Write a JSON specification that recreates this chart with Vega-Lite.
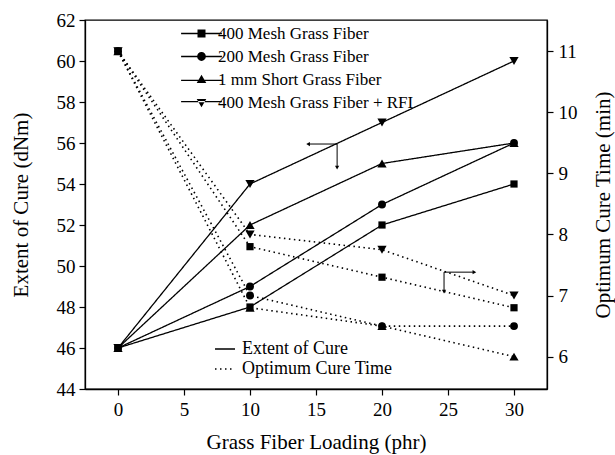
{
  "$schema": "https://vega.github.io/schema/vega-lite/v6.json",
  "width": 462,
  "height": 369,
  "autosize": "none",
  "padding": {"left": 85, "top": 20, "right": 68, "bottom": 66},
  "background": "white",
  "config": {
    "font": "Liberation Serif",
    "view": {"stroke": "black", "strokeWidth": 1.3},
    "axis": {
      "domainColor": "black", "tickColor": "black", "labelColor": "black", "titleColor": "black",
      "labelFont": "Liberation Serif", "titleFont": "Liberation Serif",
      "labelFontSize": 19, "titleFontSize": 21, "titleFontWeight": "normal",
      "grid": false, "domainWidth": 1.3, "tickWidth": 1.2, "labelOverlap": false
    },
    "legend": {"labelFont": "Liberation Serif", "labelColor": "black", "labelLimit": 400}
  },
  "datasets": {
    "cure": [
      {"series": "400 Mesh Grass Fiber", "Loading": 0, "Extent": 46, "Time": 11.0},
      {"series": "400 Mesh Grass Fiber", "Loading": 10, "Extent": 48, "Time": 7.8},
      {"series": "400 Mesh Grass Fiber", "Loading": 20, "Extent": 52, "Time": 7.3},
      {"series": "400 Mesh Grass Fiber", "Loading": 30, "Extent": 54, "Time": 6.8},
      {"series": "200 Mesh Grass Fiber", "Loading": 0, "Extent": 46, "Time": 11.0},
      {"series": "200 Mesh Grass Fiber", "Loading": 10, "Extent": 49, "Time": 7.0},
      {"series": "200 Mesh Grass Fiber", "Loading": 20, "Extent": 53, "Time": 6.5},
      {"series": "200 Mesh Grass Fiber", "Loading": 30, "Extent": 56, "Time": 6.5},
      {"series": "1 mm Short Grass Fiber", "Loading": 0, "Extent": 46, "Time": 11.0},
      {"series": "1 mm Short Grass Fiber", "Loading": 10, "Extent": 52, "Time": 6.8},
      {"series": "1 mm Short Grass Fiber", "Loading": 20, "Extent": 55, "Time": 6.5},
      {"series": "1 mm Short Grass Fiber", "Loading": 30, "Extent": 56, "Time": 6.0},
      {"series": "400 Mesh Grass Fiber + RFI", "Loading": 0, "Extent": 46, "Time": 11.0},
      {"series": "400 Mesh Grass Fiber + RFI", "Loading": 10, "Extent": 54, "Time": 8.0},
      {"series": "400 Mesh Grass Fiber + RFI", "Loading": 20, "Extent": 57, "Time": 7.75},
      {"series": "400 Mesh Grass Fiber + RFI", "Loading": 30, "Extent": 60, "Time": 7.0}
    ],
    "arrowLines": [
      {"x": 14.4, "x2": 16.6, "y": 55.95, "y2": 55.95},
      {"x": 16.6, "x2": 16.6, "y": 55.95, "y2": 54.8},
      {"x": 24.7, "x2": 27.0, "y": 49.7, "y2": 49.7},
      {"x": 24.7, "x2": 24.7, "y": 49.7, "y2": 48.75}
    ],
    "arrowHeads": [
      {"x": 14.4, "y": 55.95, "dir": "left"},
      {"x": 16.6, "y": 54.8, "dir": "down"},
      {"x": 27.0, "y": 49.7, "dir": "right"},
      {"x": 24.7, "y": 48.75, "dir": "down"}
    ]
  },
  "layer": [
    {
      "layer": [
        {
          "data": {"name": "cure"},
          "mark": {"type": "line", "color": "black", "strokeWidth": 1.3},
          "encoding": {
            "x": {
              "field": "Loading", "type": "quantitative",
              "scale": {"domain": [-2.5, 32.5], "nice": false, "zero": false},
              "axis": {
                "title": "Grass Fiber Loading (phr)",
                "values": [0, 2.5, 5, 7.5, 10, 12.5, 15, 17.5, 20, 22.5, 25, 27.5, 30, 32.5],
                "labelExpr": "datum.value % 5 == 0 && datum.value <= 30 ? datum.label : ''",
                "labelOverlap": false,
                "tickSize": {"condition": {"test": "datum.value % 5 == 0", "value": 6}, "value": 3},
                "labelPadding": 5,
                "titlePadding": 12
              }
            },
            "y": {
              "field": "Extent", "type": "quantitative",
              "scale": {"domain": [44, 62], "nice": false, "zero": false},
              "axis": {
                "title": "Extent of Cure (dNm)",
                "values": [44, 45, 46, 47, 48, 49, 50, 51, 52, 53, 54, 55, 56, 57, 58, 59, 60, 61, 62],
                "labelExpr": "datum.value % 2 == 0 ? datum.label : ''",
                "labelOverlap": false,
                "tickSize": {"condition": {"test": "datum.value % 2 == 0", "value": 6}, "value": 3},
                "labelPadding": 4,
                "titlePadding": 25
              }
            },
            "detail": {"field": "series"},
            "strokeDash": {
              "datum": "Extent of Cure",
              "scale": {"domain": ["Extent of Cure", "Optimum Cure Time"], "range": [[1, 0], [1.5, 3.5]]},
              "legend": {
                "title": null, "orient": "none", "legendX": 129, "legendY": 318,
                "symbolSize": 400, "symbolStrokeWidth": 1.5, "symbolStrokeColor": "black",
                "labelFontSize": 18, "labelOffset": 6, "rowPadding": -2, "padding": 0
              }
            }
          }
        },
        {
          "data": {"name": "cure"},
          "mark": {
            "type": "point", "filled": true, "color": "black", "opacity": 1,
            "size": {"expr": "datum.series === '400 Mesh Grass Fiber' ? 52 : datum.series === '200 Mesh Grass Fiber' ? 62 : 85"},
            "shape": {"expr": "datum.series === '400 Mesh Grass Fiber' ? 'square' : datum.series === '200 Mesh Grass Fiber' ? 'circle' : datum.series === '1 mm Short Grass Fiber' ? 'triangle-up' : 'triangle-down'"}
          },
          "encoding": {
            "x": {"field": "Loading", "type": "quantitative", "title": "Grass Fiber Loading (phr)"},
            "y": {"field": "Extent", "type": "quantitative", "title": "Extent of Cure (dNm)"}
          }
        },
        {
          "data": {"name": "cure"},
          "transform": [{"filter": "datum.Loading < -100"}],
          "mark": {"type": "point", "filled": true, "color": "black", "opacity": 1},
          "encoding": {
            "x": {"field": "Loading", "type": "quantitative", "title": "Grass Fiber Loading (phr)"},
            "y": {"field": "Extent", "type": "quantitative", "title": "Extent of Cure (dNm)"},
            "shape": {
              "field": "series", "type": "nominal",
              "scale": {
                "domain": ["400 Mesh Grass Fiber", "200 Mesh Grass Fiber", "1 mm Short Grass Fiber", "400 Mesh Grass Fiber + RFI"],
                "range": [
                  "M-5.1,-0.16H5.1V0.16H-5.1ZM-1,-1H1V1H-1Z",
                  "M-5.1,-0.16H5.1V0.16H-5.1ZM1.1,0A1.1,1.1,0,1,1,-1.1,0A1.1,1.1,0,1,1,1.1,0Z",
                  "M-5.1,0.04H5.1V0.36H-5.1ZM0,-1.2L1.2,0.9L-1.2,0.9Z",
                  "M-5.1,-0.36H5.1V-0.04H-5.1ZM0,1.2L1.2,-0.9L-1.2,-0.9Z"
                ]
              },
              "legend": {
                "title": null, "orient": "none", "legendX": 108, "legendY": 5,
                "symbolSize": 64, "symbolFillColor": "black", "symbolStrokeColor": "black",
                "symbolStrokeWidth": 0, "symbolOpacity": 1,
                "labelFontSize": 17, "labelOffset": 8, "rowPadding": 5, "padding": 0
              }
            }
          }
        },
        {
          "data": {"name": "arrowLines"},
          "mark": {"type": "rule", "color": "black", "strokeWidth": 1},
          "encoding": {
            "x": {"field": "x", "type": "quantitative", "title": "Grass Fiber Loading (phr)"},
            "x2": {"field": "x2"},
            "y": {"field": "y", "type": "quantitative", "title": "Extent of Cure (dNm)"},
            "y2": {"field": "y2"}
          }
        },
        {
          "data": {"name": "arrowHeads"},
          "mark": {
            "type": "point", "filled": true, "color": "black", "opacity": 1, "size": 18,
            "shape": {"expr": "datum.dir === 'left' ? 'triangle-left' : datum.dir === 'right' ? 'triangle-right' : 'triangle-down'"}
          },
          "encoding": {
            "x": {"field": "x", "type": "quantitative", "title": "Grass Fiber Loading (phr)"},
            "y": {"field": "y", "type": "quantitative", "title": "Extent of Cure (dNm)"}
          }
        }
      ]
    },
    {
      "layer": [
        {
          "data": {"name": "cure"},
          "mark": {"type": "line", "color": "black", "strokeWidth": 1.6},
          "encoding": {
            "x": {"field": "Loading", "type": "quantitative", "title": "Grass Fiber Loading (phr)"},
            "y": {
              "field": "Time", "type": "quantitative",
              "scale": {"domain": [5.47, 11.51], "nice": false, "zero": false},
              "axis": {
                "orient": "right",
                "title": "Optimum Cure Time (min)",
                "titleAngle": 270,
                "values": [6, 6.5, 7, 7.5, 8, 8.5, 9, 9.5, 10, 10.5, 11, 11.5],
                "format": "d",
                "labelExpr": "datum.value % 1 == 0 ? datum.label : ''",
                "labelOverlap": false,
                "tickSize": {"condition": {"test": "datum.value % 1 == 0", "value": 6}, "value": 3},
                "labelPadding": 5,
                "titlePadding": 36
              }
            },
            "detail": {"field": "series"},
            "strokeDash": {"datum": "Optimum Cure Time"}
          }
        },
        {
          "data": {"name": "cure"},
          "mark": {
            "type": "point", "filled": true, "color": "black", "opacity": 1,
            "size": {"expr": "datum.series === '400 Mesh Grass Fiber' ? 52 : datum.series === '200 Mesh Grass Fiber' ? 62 : 85"},
            "shape": {"expr": "datum.series === '400 Mesh Grass Fiber' ? 'square' : datum.series === '200 Mesh Grass Fiber' ? 'circle' : datum.series === '1 mm Short Grass Fiber' ? 'triangle-up' : 'triangle-down'"}
          },
          "encoding": {
            "x": {"field": "Loading", "type": "quantitative", "title": "Grass Fiber Loading (phr)"},
            "y": {"field": "Time", "type": "quantitative", "title": "Optimum Cure Time (min)"}
          }
        }
      ]
    }
  ],
  "resolve": {"scale": {"y": "independent"}}
}
